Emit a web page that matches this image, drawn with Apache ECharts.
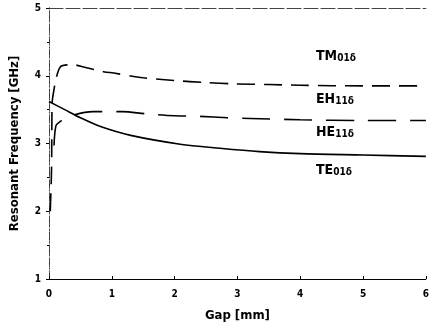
<!DOCTYPE html>
<html><head><meta charset="utf-8">
<script src="https://cdn.jsdelivr.net/npm/echarts@6/dist/echarts.min.js"></script>
<style>html,body{margin:0;padding:0;background:#fff}#c{width:432px;height:327px}</style>
</head><body><div id="c"></div>
<script>
// Gap [mm] vs resonant frequency [GHz]
const tmGap  = [0.02, 0.04, 0.045, 0.05, 0.08, 0.11, 0.18, 0.3, 0.4, 0.55, 0.87, 1.03, 1.5, 2.0, 2.48, 2.95, 3.5, 4, 5, 6];
const tmFreq = [2.0, 2.6, 3.2, 3.6, 3.8, 3.95, 4.13, 4.16, 4.16, 4.13, 4.06, 4.04, 3.97, 3.93, 3.90, 3.88, 3.87, 3.86, 3.85, 3.85];
const heGap  = [0.08, 0.11, 0.17, 0.32, 0.7, 1.17, 1.53, 2.0, 2.4, 2.84, 3.2, 4, 5, 6];
const heFreq = [2.97, 3.26, 3.32, 3.40, 3.47, 3.47, 3.44, 3.41, 3.40, 3.38, 3.37, 3.35, 3.34, 3.34];
const teGap  = [0, 0.25, 0.5, 0.82, 1.3, 2.09, 2.72, 3.35, 4, 5, 6];
const teFreq = [3.62, 3.5, 3.38, 3.25, 3.12, 2.99, 2.93, 2.88, 2.85, 2.83, 2.81];
const xTicks = [0, 1, 2, 3, 4, 5, 6];
const yTicks = [1, 2, 3, 4, 5];
const modeLabels = [
  {main: 'TM', sub: '01δ'},
  {main: 'EH', sub: '11δ'},
  {main: 'HE', sub: '11δ'},
  {main: 'TE', sub: '01δ'}
];

const FONT = '"DejaVu Sans Condensed","Liberation Sans Narrow","Liberation Sans",sans-serif';
const pair = (xs, ys) => xs.map((x, i) => [x, ys[i]]);
const chart = echarts.init(document.getElementById('c'));
const labelY = [57, 100, 133, 171];
chart.setOption({
  animation: false,
  backgroundColor: '#fff',
  grid: {left: 48, right: 4, top: 8, bottom: 46},
  xAxis: [{
    type: 'value', min: xTicks[0], max: xTicks[xTicks.length - 1], interval: 1,
    name: 'Gap [mm]', nameLocation: 'middle', nameGap: 30,
    nameTextStyle: {fontFamily: FONT, fontWeight: 'bold', fontSize: 13, color: '#000'},
    axisLine: {lineStyle: {color: '#000', width: 1}},
    axisTick: {inside: true, length: 3, lineStyle: {color: '#000'}},
    axisLabel: {fontFamily: FONT, fontWeight: 'bold', fontSize: 10, color: '#000', margin: 10},
    splitLine: {show: false}
  }, {
    type: 'value', position: 'top', min: 0, max: 6,
    axisLine: {lineStyle: {color: '#444', width: 1, type: [14, 3]}},
    axisTick: {show: false}, axisLabel: {show: false}, splitLine: {show: false}
  }],
  yAxis: [{
    type: 'value', min: yTicks[0], max: yTicks[yTicks.length - 1], interval: 1,
    name: 'Resonant Frequency [GHz]', nameLocation: 'middle', nameGap: 28, nameRotate: 90,
    nameTextStyle: {fontFamily: FONT, fontWeight: 'bold', fontSize: 13, color: '#000'},
    axisLine: {lineStyle: {color: '#333', width: 1, type: [8, 2, 1, 2]}},
    axisTick: {length: 3, lineStyle: {color: '#000'}},
    minorTick: {show: true, splitNumber: 2, length: 2, lineStyle: {color: '#000'}},
    axisLabel: {fontFamily: FONT, fontWeight: 'bold', fontSize: 10, color: '#000', margin: 8},
    splitLine: {show: false}
  }, {
    type: 'value', position: 'right', min: 1, max: 5,
    axisLine: {lineStyle: {color: '#555', width: 1, type: [2, 4]}},
    axisTick: {show: false}, axisLabel: {show: false}, splitLine: {show: false}
  }],
  series: [
    {type: 'line', data: pair(tmGap, tmFreq), showSymbol: false, smooth: 0.3,
     lineStyle: {color: '#000', width: 1.6, type: [18, 9]}},
    {type: 'line', data: pair(heGap, heFreq), showSymbol: false, smooth: 0.3,
     lineStyle: {color: '#000', width: 1.6, type: [28, 14]}},
    {type: 'line', data: pair(teGap, teFreq), showSymbol: false, smooth: 0.3,
     lineStyle: {color: '#000', width: 1.6}}
  ],
  graphic: modeLabels.map((m, i) => ({
    type: 'text', left: 316, top: labelY[i] - 8,
    style: {
      text: '{a|' + m.main + '}{b|' + m.sub + '}',
      rich: {
        a: {fontFamily: FONT, fontWeight: 'bold', fontSize: 14, fill: '#000', letterSpacing: -1},
        b: {fontFamily: FONT, fontWeight: 'bold', fontSize: 10, fill: '#000', verticalAlign: 'bottom', padding: [4, 0, 0, 0]}
      }
    }
  }))
});
</script></body></html>
